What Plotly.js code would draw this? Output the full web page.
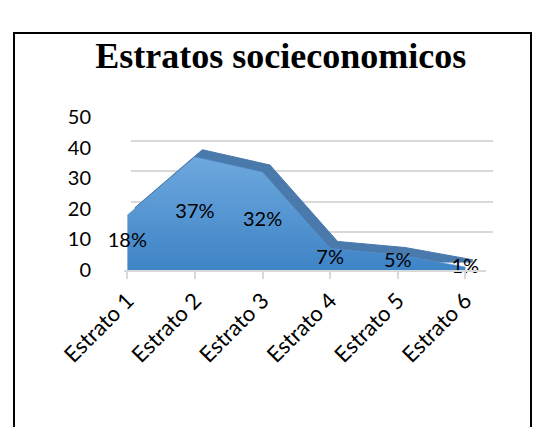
<!DOCTYPE html>
<html><head><meta charset="utf-8">
<script src="https://cdn.plot.ly/plotly-3.0.1.min.js"></script>
<style>
html,body{margin:0;padding:0;background:#fff;}
#wrap{position:relative;width:545px;height:427px;overflow:hidden;}
#frame{position:absolute;left:13px;top:32px;width:519px;height:420px;border:2px solid #000;box-sizing:border-box;pointer-events:none;}
#chart{position:absolute;left:0;top:0;width:545px;height:427px;}
</style></head>
<body><div id="wrap"><div id="chart"></div><div id="frame"></div></div>
<script>
const categories = ['Estrato 1','Estrato 2','Estrato 3','Estrato 4','Estrato 5','Estrato 6'];
const values = [18, 37, 32, 7, 5, 1];
const labels = ['18%','37%','32%','7%','5%','1%'];
const yTicks = [0,10,20,30,40,50];

const idx = categories.map((c,i)=>i);
const font = 'Lato, "Open Sans", sans-serif';

// back face (depth) drawn on the main axes, which also carry the back-wall grid
const back = {
  x: idx, y: values, type:'scatter', mode:'lines',
  fill:'tozeroy', fillcolor:'#4A79AC', line:{color:'#4A79AC', width:1},
  hoverinfo:'skip', showlegend:false
};
// front face drawn on the front axes (x2/y2)
const front = {
  x: idx, y: values, xaxis:'x2', yaxis:'y2', type:'scatter', mode:'lines',
  fill:'tozeroy', line:{color:'#5E9BD6', width:0.5},
  fillgradient:{type:'vertical', colorscale:[[0,'#3E84C6'],[1,'#6EA8DE']]},
  hoverinfo:'skip', showlegend:false
};
const text = {
  x: idx, y: values.map(v=>v/2), xaxis:'x2', yaxis:'y2', type:'scatter', mode:'text',
  text: labels, textposition:'middle center', cliponaxis:false,
  textfont:{family:font, size:20, color:'#000'},
  hoverinfo:'skip', showlegend:false
};

const layout = {
  width:545, height:427,
  margin:{l:124, r:52, t:110, b:157},
  paper_bgcolor:'rgba(0,0,0,0)', plot_bgcolor:'rgba(0,0,0,0)',
  title:{text:'Estratos socieconomicos', font:{family:'"Liberation Serif", "Times New Roman", serif', size:36, weight:'bold', color:'#000'},
    xref:'container', yref:'container', x:0.515, y:0.87, xanchor:'center', yanchor:'middle'},
  xaxis:{domain:[0.02,1], range:[-0.05,5.3], visible:true, showticklabels:false, ticks:'', showline:false, showgrid:false, zeroline:false},
  yaxis:{domain:[0.045,1], range:[0,50], tickmode:'array', tickvals:yTicks, showticklabels:false,
    showgrid:true, gridcolor:'#D9D9D9', gridwidth:2, zeroline:false, showline:false},
  xaxis2:{domain:[0,0.98], range:[-0.05,5.3], anchor:'y2', tickmode:'array', tickvals:idx, ticktext:categories,
    tickangle:-45, tickfont:{family:font, size:22, color:'#000'}, showgrid:false,
    showline:true, linecolor:'#D9D9D9', linewidth:2, ticks:'outside', tickcolor:'#D9D9D9', ticklen:7, tickwidth:2, zeroline:false},
  yaxis2:{domain:[0,0.955], range:[0,50], anchor:'x2', tickmode:'array', tickvals:yTicks,
    tickfont:{family:font, size:20, color:'#000'}, showgrid:false,
    zeroline:false, showline:false, ticklabelstandoff:32},
  showlegend:false
};
Plotly.newPlot('chart', [back, front, text], layout, {displayModeBar:false, staticPlot:true});
</script></body></html>
